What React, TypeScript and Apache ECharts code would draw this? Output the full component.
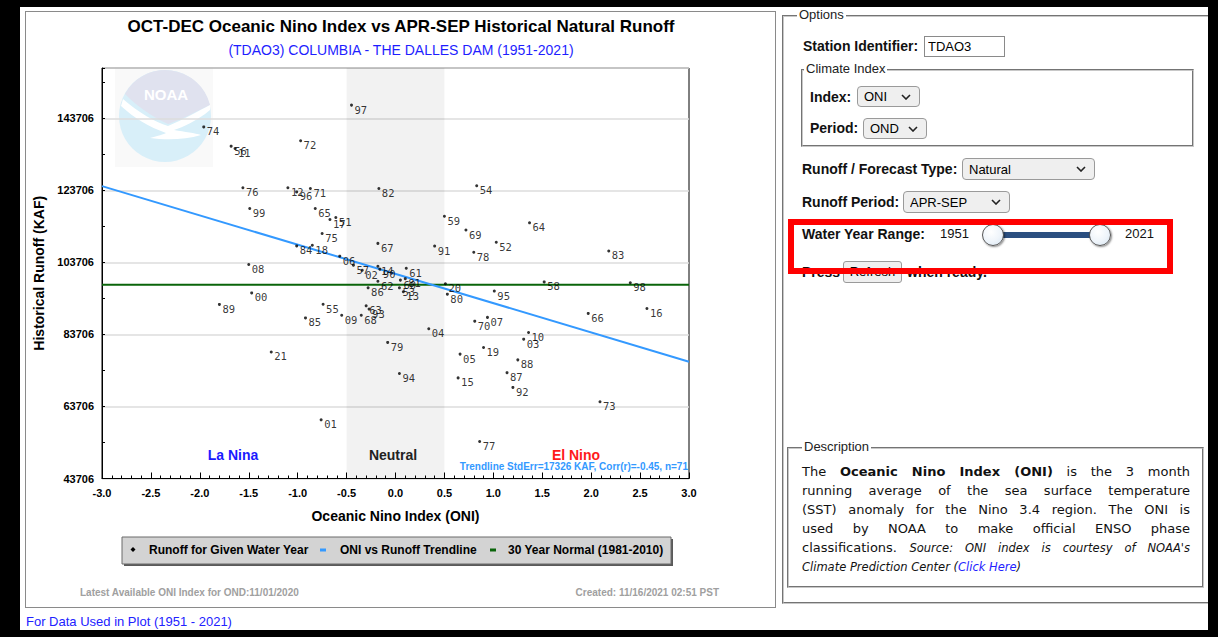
import React, { useEffect, useRef } from "react";
import * as echarts from "echarts";

// ---------------- DATA ----------------
const years = [
  "51","52","53","54","55","56","57","58","59","60","61","62","63","64","65","66","67","68","69","70",
  "71","72","73","74","75","76","77","78","79","80","81","82","83","84","85","86","87","88","89","90",
  "91","92","93","94","95","96","97","98","99","00","01","02","03","04","05","06","07","08","09","10",
  "11","12","13","14","15","16","17","18","19","20","21",
];
const oniValues = [
  -0.61, 1.03, 0.04, 0.83, -0.74, -1.68, -0.43, 1.52, 0.5, 0.05, 0.11, -0.18, -0.3, 1.37, -0.82, 1.97, -0.18, -0.35, 0.72, 0.81,
  -0.87, -0.97, 2.09, -1.96, -0.75, -1.56, 0.86, 0.8, -0.08, 0.53, 0.1, -0.17, 2.18, -1.01, -0.92, -0.28, 1.14, 1.25, -1.8, -0.16,
  0.4, 1.2, -0.27, 0.04, 1.01, -1.01, -0.45, 2.4, -1.49, -1.47, -0.76, -0.34, 1.31, 0.34, 0.66, -0.57, 0.94, -1.5, -0.55, 1.36,
  -1.64, -1.1, 0.08, -0.18, 0.64, 2.57, -0.67, -0.85, 0.9, 0.51, -1.27,
];
const runoffValues = [
  116200, 109300, 96650, 125000, 92100, 136000, 102950, 98300, 116550, 98800, 102100, 98500, 91650, 114700, 118700, 89550, 109000, 89050, 112700, 87400,
  124250, 137500, 65000, 141350, 111750, 124450, 54000, 106550, 81500, 94900, 99200, 124250, 106900, 108300, 88300, 96650, 73100, 76650, 92050, 101850,
  108250, 69000, 90750, 72850, 95750, 123300, 147400, 98050, 118700, 95250, 60000, 101550, 82400, 85300, 78250, 105450, 88450, 103150, 89050, 84250,
  135350, 124450, 95550, 102650, 71650, 90900, 115650, 108500, 80100, 97800, 78850,
];
const trendOni = [-3.0, 3.0];
const trendRunoff = [124900, 76150];
const normalOni = [-3.0, 3.0];
const normalRunoff = [97480, 97480];
const neutralRange = [-0.5, 0.5];
const yMin = 43706;
const yMax = 157706;
const yLabelStep = 20000;
const yMinorStep = 10000;

const seriesNames = [
  "Runoff for Given Water Year",
  "ONI vs Runoff Trendline",
  "30 Year Normal (1981-2010)",
];
const phaseLabels = ["La Nina", "Neutral", "El Nino"];
const TITLE = "OCT-DEC Oceanic Nino Index vs APR-SEP Historical Natural Runoff";
const SUBTITLE = "(TDAO3) COLUMBIA - THE DALLES DAM (1951-2021)";
const TREND_NOTE = "Trendline StdErr=17326 KAF, Corr(r)=-0.45, n=71";

// ---------------- STYLE ----------------
const FONT = "'Liberation Sans', Arial, Helvetica, sans-serif";
const MONO = "'DejaVu Sans Mono', 'Liberation Mono', monospace";
const VERD = "Verdana, 'DejaVu Sans', sans-serif";

echarts.graphic.registerShape(
  "noaaTop",
  echarts.graphic.extendPath(
    "M -40 -22 A 46 46 0 0 1 45 -11 C 30 -4 16 4 3 8 C -14 0 -28 -10 -40 -22 Z",
    {}
  )
);
echarts.graphic.registerShape(
  "noaaBird",
  echarts.graphic.extendPath(
    "M -42 -17 C -27 -4 -10 6 3 10 C 18 4 33 -5 45 -11 L 45 -6 C 32 5 18 11 9 14 C 20 16 30 17 36 19 C 20 24 0 24 -15 22 C -7 20 -1 18 1 17 C -16 11 -31 2 -44 -10 Z",
    {}
  )
);

function buildOption(): any {
  const scatterData = oniValues.map((x, i) => [x, runoffValues[i], years[i]]);
  const trendData = trendOni.map((x, i) => [x, trendRunoff[i]]);
  const normalData = normalOni.map((x, i) => [x, normalRunoff[i]]);

  const txt = (
    text: string,
    x: number,
    y: number,
    size: number,
    color: string,
    weight: string,
    align = "left",
    family = FONT
  ) => ({
    type: "text",
    x,
    y,
    z: 50,
    silent: true,
    style: {
      text,
      fill: color,
      fontSize: size,
      fontWeight: weight,
      fontFamily: family,
      align,
      verticalAlign: "middle",
      textAlign: align,
      textVerticalAlign: "middle",
    },
  });

  const graphic: any[] = [
    // NOAA logo watermark
    {
      type: "group",
      x: 165,
      y: 116,
      z: -5,
      silent: true,
      children: [
        { type: "rect", shape: { x: -50, y: -49, width: 98, height: 100 }, style: { fill: "#f9f9f9" }, z: -5 },
        { type: "circle", shape: { cx: 0, cy: 0, r: 46 }, style: { fill: "#d8eff9" }, z: -4 },
        { type: "noaaTop", style: { fill: "#e0e2ef" }, z: -3 },
        { type: "noaaBird", style: { fill: "#ffffff" }, z: -2 },
        {
          type: "text",
          x: 1,
          y: -22,
          z: -1,
          style: {
            text: "NOAA",
            fill: "#ffffff",
            fontSize: 15,
            fontWeight: "bold",
            fontFamily: FONT,
            align: "center",
            verticalAlign: "middle",
            textAlign: "center",
            textVerticalAlign: "middle",
          },
        },
      ],
    },
    txt(phaseLabels[0], 233, 455, 14, "#1a1aff", "bold", "center"),
    txt(phaseLabels[1], 393, 455, 14, "#222222", "bold", "center"),
    txt(phaseLabels[2], 576, 455, 14, "#ff1a1a", "bold", "center"),
    txt(TREND_NOTE, 688, 466, 10, "#3399ff", "bold", "right"),
    // legend box
    { type: "rect", z: 40, silent: true, shape: { x: 124, y: 539, width: 549, height: 27 }, style: { fill: "#5a5a5a" } },
    { type: "rect", z: 41, silent: true, shape: { x: 122, y: 537, width: 549, height: 27 }, style: { fill: "#d3d3d3", stroke: "#6a6a6a", lineWidth: 1 } },
    { type: "polygon", z: 42, silent: true, shape: { points: [[133, 547], [135.5, 549.5], [133, 552], [130.5, 549.5]] }, style: { fill: "#000" } },
    txt(seriesNames[0], 149, 550, 12, "#000", "bold"),
    { type: "rect", z: 42, silent: true, shape: { x: 320, y: 548.5, width: 6, height: 3 }, style: { fill: "#3399ff" } },
    txt(seriesNames[1], 340, 550, 12, "#000", "bold"),
    { type: "rect", z: 42, silent: true, shape: { x: 490, y: 548.5, width: 6, height: 3 }, style: { fill: "#0a640a" } },
    txt(seriesNames[2], 508, 550, 12, "#000", "bold"),
    // footer
    txt("Latest Available ONI Index for OND:11/01/2020", 80, 592, 10, "#a0a0a0", "bold"),
    txt("Created: 11/16/2021 02:51 PST", 719, 592, 10, "#a0a0a0", "bold", "right"),
  ];

  const axisFont = { fontFamily: FONT, fontWeight: "bold", fontSize: 11, color: "#000" };
  const nameFont = { fontFamily: FONT, fontWeight: "bold", fontSize: 14, color: "#000" };

  return {
    animation: false,
    title: [
      {
        text: TITLE,
        subtext: SUBTITLE,
        left: "center",
        top: 16,
        padding: 0,
        itemGap: 6,
        textStyle: { fontFamily: FONT, fontWeight: "bold", fontSize: 17, color: "#000", lineHeight: 20 },
        subtextStyle: { fontFamily: FONT, fontWeight: "normal", fontSize: 14, color: "#1e1eff", lineHeight: 16 },
      },
    ],
    grid: {
      left: 102,
      top: 68,
      width: 587,
      height: 410.5,
      show: true,
      borderColor: "#000",
      borderWidth: 1,
      backgroundColor: "transparent",
    },
    xAxis: {
      type: "value",
      min: -3,
      max: 3,
      interval: 0.5,
      axisLine: { show: true, onZero: false, lineStyle: { color: "#000", width: 1 } },
      axisTick: { show: true, inside: true, length: 6, lineStyle: { color: "#000" } },
      minorTick: { show: true, splitNumber: 5, length: 3, lineStyle: { color: "#000" } },
      splitLine: { show: false },
      axisLabel: { ...axisFont, margin: 9, formatter: (v: number) => v.toFixed(1) },
      name: "Oceanic Nino Index (ONI)",
      nameLocation: "middle",
      nameGap: 30,
      nameTextStyle: nameFont,
    },
    yAxis: [
      {
        type: "value",
        min: yMin,
        max: yMax,
        interval: yLabelStep,
        position: "left",
        axisLine: { show: true, onZero: false, lineStyle: { color: "#000", width: 1 } },
        axisTick: { show: true, inside: true, length: 3, lineStyle: { color: "#000" } },
        splitLine: { show: true, lineStyle: { color: "#dcdcdc", width: 1.5 } },
        axisLabel: {
          ...axisFont,
          margin: 8,
          formatter: (v: number) => (v === yMax ? "" : String(v)),
        },
        name: "Historical Runoff (KAF)",
        nameLocation: "middle",
        nameRotate: 90,
        nameGap: 54,
        nameTextStyle: nameFont,
      },
      {
        type: "value",
        min: yMin,
        max: yMax,
        interval: yMinorStep,
        position: "left",
        axisLine: { show: false, onZero: false },
        axisTick: { show: true, inside: true, length: 3, lineStyle: { color: "#000" } },
        axisLabel: { show: false },
        splitLine: { show: false },
      },
    ],
    series: [
      {
        type: "line",
        name: "neutral",
        data: [[0, 100000]],
        symbol: "none",
        lineStyle: { opacity: 0 },
        z: 1,
        silent: true,
        markArea: {
          silent: true,
          itemStyle: { color: "rgba(0,0,0,0.05)" },
          data: [[{ xAxis: neutralRange[0] }, { xAxis: neutralRange[1] }]],
        },
      },
      {
        type: "line",
        name: seriesNames[2],
        data: normalData,
        symbol: "none",
        lineStyle: { color: "#0a640a", width: 2 },
        z: 3,
        silent: true,
      },
      {
        type: "line",
        name: seriesNames[1],
        data: trendData,
        symbol: "none",
        lineStyle: { color: "#3399ff", width: 2 },
        z: 3,
        silent: true,
      },
      {
        type: "scatter",
        name: seriesNames[0],
        data: scatterData,
        symbol: "circle",
        symbolSize: 3,
        itemStyle: { color: "#000" },
        z: 4,
        label: {
          show: true,
          position: "right",
          distance: 1.5,
          offset: [0, 4.5],
          formatter: (p: any) => p.value[2],
          fontFamily: MONO,
          fontSize: 10.5,
          color: "#000",
        },
      },
    ],
    graphic,
  };
}

const chevron =
  "url(\"data:image/svg+xml;utf8,<svg xmlns='http://www.w3.org/2000/svg' width='10' height='6'><path d='M1 1 L5 5 L9 1' fill='none' stroke='%23222' stroke-width='1.6'/></svg>\")";

function Sel(props: { x: number; y: number; w: number; h: number; value: string }) {
  return (
    <select
      value={props.value}
      onChange={() => {}}
      style={{
        position: "absolute",
        left: props.x,
        top: props.y,
        width: props.w,
        height: props.h,
        boxSizing: "border-box",
        appearance: "none",
        WebkitAppearance: "none",
        background: "#efefef",
        backgroundImage: chevron,
        backgroundRepeat: "no-repeat",
        backgroundPosition: "right 8px center",
        border: "1px solid #9a9a9a",
        borderRadius: 4,
        fontFamily: FONT,
        fontSize: 13,
        color: "#000",
        padding: "0 0 0 6px",
        margin: 0,
      }}
    >
      <option value={props.value}>{props.value}</option>
    </select>
  );
}

function Label(props: { x: number; cy: number; text: string; bold?: boolean; size?: number; color?: string }) {
  const size = props.size || 14;
  return (
    <div
      style={{
        position: "absolute",
        left: props.x,
        top: props.cy - 9,
        height: 18,
        lineHeight: "18px",
        fontSize: size,
        fontWeight: props.bold === false ? "normal" : "bold",
        fontFamily: FONT,
        color: props.color || "#111",
        whiteSpace: "nowrap",
      }}
    >
      {props.text}
    </div>
  );
}

function Box(props: { x: number; y: number; w: number; h: number; legend: string; lx: number }) {
  return (
    <>
      <div
        style={{
          position: "absolute",
          left: props.x,
          top: props.y,
          width: props.w,
          height: props.h,
          boxSizing: "border-box",
          border: "2px groove rgb(200,200,200)",
        }}
      />
      <div
        style={{
          position: "absolute",
          left: props.lx - 2,
          top: props.y - 8,
          height: 16,
          lineHeight: "16px",
          padding: "0 2px",
          background: "#fff",
          fontFamily: FONT,
          fontSize: 13,
          color: "#222",
          whiteSpace: "nowrap",
        }}
      >
        {props.legend}
      </div>
    </>
  );
}

const descLine: React.CSSProperties = {
  position: "absolute",
  left: 802,
  width: 388,
  height: 19,
  lineHeight: "19px",
  fontFamily: VERD,
  fontSize: 13,
  color: "#111",
  textAlign: "justify",
  textAlignLast: "justify",
  whiteSpace: "nowrap",
};

export default function App() {
  const ref = useRef<HTMLDivElement>(null);
  useEffect(() => {
    if (!ref.current) return;
    const chart = echarts.init(ref.current, null, { renderer: "svg" });
    chart.setOption(buildOption());
    return () => chart.dispose();
  }, []);

  const handle: React.CSSProperties = {
    position: "absolute",
    top: 224,
    width: 22,
    height: 22,
    boxSizing: "border-box",
    borderRadius: "50%",
    border: "1px solid #555",
    background: "radial-gradient(circle at 40% 35%, #ffffff 0%, #eef4fa 55%, #d5e3f0 100%)",
    boxShadow: "1px 1px 2px rgba(0,0,0,0.45)",
  };

  return (
    <div
      style={{
        position: "fixed",
        left: 0,
        top: 0,
        width: 1218,
        height: 637,
        background: "#000",
        overflow: "hidden",
        fontFamily: FONT,
      }}
    >
      <div style={{ position: "absolute", left: 20, top: 7, width: 1188, height: 623, background: "#fff" }} />
      <div
        style={{
          position: "absolute",
          left: 25,
          top: 11,
          width: 751,
          height: 597,
          boxSizing: "border-box",
          border: "1px solid #8a8a8a",
        }}
      />
      <div ref={ref} style={{ position: "absolute", left: 0, top: 0, width: 802, height: 637 }} />
      <div
        style={{
          position: "absolute",
          left: 26,
          top: 614,
          height: 16,
          lineHeight: "16px",
          fontFamily: FONT,
          fontSize: 13,
          color: "#2222ff",
          whiteSpace: "nowrap",
        }}
      >
        For Data Used in Plot (1951 - 2021)
      </div>

      {/* Right panel */}
      <Box x={782} y={15} w={440} h={589} legend="Options" lx={799} />
      <Label x={803} cy={46} text="Station Identifier:" />
      <input
        readOnly
        value="TDAO3"
        style={{
          position: "absolute",
          left: 924,
          top: 36,
          width: 81,
          height: 21,
          boxSizing: "border-box",
          border: "1px solid #8a8a8a",
          fontFamily: FONT,
          fontSize: 13,
          padding: "0 3px",
          margin: 0,
          color: "#000",
          background: "#fff",
        }}
      />
      <Box x={801} y={69} w={393} h={78} legend="Climate Index" lx={806} />
      <Label x={810} cy={97} text="Index:" />
      <Sel x={857} y={86} w={63} h={21} value="ONI" />
      <Label x={810} cy={128} text="Period:" />
      <Sel x={863} y={118} w={64} h={21} value="OND" />
      <Label x={802} cy={169} text="Runoff / Forecast Type:" />
      <Sel x={962} y={158} w={133} h={22} value="Natural" />
      <Label x={802} cy={202} text="Runoff Period:" />
      <Sel x={903} y={191} w={107} h={22} value="APR-SEP" />
      <Label x={802} cy={234} text="Water Year Range:" />
      <Label x={940} cy={234} text="1951" bold={false} size={13} />
      <div style={{ position: "absolute", left: 994, top: 232, width: 106, height: 6, background: "#2b4f80" }} />
      <div style={{ ...handle, left: 982 }} />
      <div style={{ ...handle, left: 1089 }} />
      <Label x={1125} cy={234} text="2021" bold={false} size={13} />
      <Label x={802} cy={272} text="Press" />
      <div
        style={{
          position: "absolute",
          left: 843,
          top: 261,
          width: 59,
          height: 22,
          boxSizing: "border-box",
          border: "1px solid #9a9a9a",
          borderRadius: 3,
          background: "#efefef",
          fontFamily: FONT,
          fontSize: 13,
          lineHeight: "20px",
          textAlign: "center",
          color: "#000",
        }}
      >
        Refresh
      </div>
      <Label x={907} cy={272} text="when ready." />
      <div
        style={{
          position: "absolute",
          left: 788,
          top: 219,
          width: 385,
          height: 55,
          boxSizing: "border-box",
          border: "6px solid #ff0000",
        }}
      />

      <Box x={787} y={447} w={417} h={141} legend="Description" lx={804} />
      <div style={{ ...descLine, top: 462 }}>
        The <b>Oceanic Nino Index (ONI)</b> is the 3 month
      </div>
      <div style={{ ...descLine, top: 481 }}>running average of the sea surface temperature</div>
      <div style={{ ...descLine, top: 500 }}>(SST) anomaly for the Nino 3.4 region. The ONI is</div>
      <div style={{ ...descLine, top: 519 }}>used by NOAA to make official ENSO phase</div>
      <div style={{ ...descLine, top: 538 }}>
        classifications. <i style={{ fontSize: 11.5 }}>Source: ONI index is courtesy of NOAA's</i>
      </div>
      <div style={{ ...descLine, top: 557, textAlign: "left", textAlignLast: "left" }}>
        <i style={{ fontSize: 11.5 }}>
          Climate Prediction Center (<span style={{ color: "#2222ff" }}>Click Here</span>)
        </i>
      </div>

      {/* black frame */}
      <div style={{ position: "absolute", left: 1208, top: 0, width: 10, height: 637, background: "#000" }} />
    </div>
  );
}
